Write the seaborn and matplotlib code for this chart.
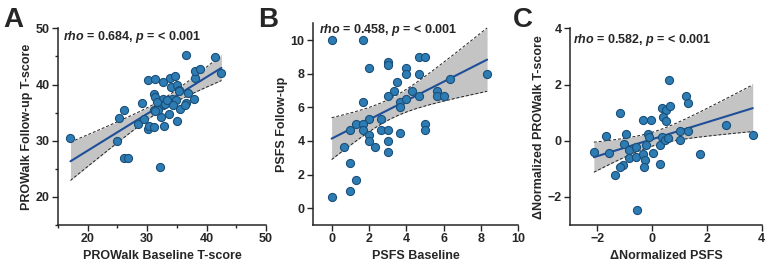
#!/usr/bin/env python3
import matplotlib
matplotlib.use('Agg')
import matplotlib.pyplot as plt
import numpy as np
import pandas as pd
import seaborn as sns

sns.set_theme(style='ticks')
plt.rcParams['font.family'] = ['Liberation Sans', 'DejaVu Sans']
plt.rcParams['font.weight'] = 'bold'
plt.rcParams['mathtext.fontset'] = 'custom'
plt.rcParams['mathtext.it'] = 'Liberation Sans:bold:italic'
plt.rcParams['mathtext.rm'] = 'Liberation Sans:bold'

# Panel A: PROWalk T-scores
prowalk_base = [17.1, 24.9, 25.2, 26.1, 26.1, 26.7, 29.1, 30.1, 31.4, 32.6,
                28.5, 29.4, 30.1, 30.3, 31.1, 31.2, 31.3, 31.1, 32.2, 32.3,
                32.6, 32.9, 32.7, 33.0, 33.6, 33.9, 34.0, 34.2, 34.7, 35.0,
                34.8, 35.1, 35.3, 35.5, 35.4, 36.8, 36.6, 36.6, 36.4, 37.9,
                38.0, 38.0, 38.9, 41.5, 42.5, 31.6, 31.9, 33.3, 34.4, 31.3]
prowalk_follow = [30.4, 29.9, 34.1, 35.4, 27.0, 27.0, 36.7, 40.8, 41.0, 40.5,
                  32.9, 33.8, 32.1, 32.6, 32.4, 38.4, 37.7, 35.5, 25.3, 34.3,
                  37.4, 32.6, 36.3, 36.5, 34.7, 41.1, 39.6, 37.5, 41.5, 33.5,
                  37.3, 39.9, 39.0, 35.7, 38.9, 38.5, 45.2, 36.7, 36.3, 37.5,
                  41.1, 42.4, 42.7, 44.9, 42.0, 36.9, 35.4, 37.2, 36.3, 35.2]

# Panel B: PSFS scores
psfs_base = [0, 1.67, 4.67, 5, 2, 3, 3, 4, 4, 4.67, 8.33, 6.33, 3.5, 3.33,
             4.33, 5.67, 3, 4.67, 5.67, 6, 1.67, 3.67, 4, 3.67, 2, 2.67, 1.33,
             1.67, 5, 5, 1, 1.67, 2.67, 3, 3.67, 2, 2, 3, 0.67, 2.33, 3, 1,
             1.33, 1, 0]
psfs_follow = [10, 10, 9, 9, 8.33, 8.67, 8.5, 8.33, 8, 8, 8, 7.67, 7.5, 7, 7,
               7, 6.67, 6.67, 6.67, 6.67, 6.33, 6.33, 6.5, 6, 5.33, 5.33, 5, 5,
               5, 4.67, 4.67, 4.67, 4.67, 4.67, 4.5, 4.33, 4, 4, 3.67, 3.67,
               3.33, 2.67, 1.67, 1, 0.67]

# Panel C: change scores (normalized)
d_psfs = [-2.13, -1.70, -1.56, -1.18, -1.36, -0.94, -1.02, -1.07, -1.16, -0.83,
          -0.85, -0.61, -0.61, -0.54, -0.32, -0.04, -0.16, -0.10, -0.24, -0.34,
          -0.27, -0.29, 0.02, 0.27, 0.29, 0.36, 0.51, 0.64, 0.40, 0.49, 0.61,
          0.36, 0.46, 0.58, 1.00, 1.00, 1.31, 1.22, 1.31, 1.73, 2.71, 3.67]
d_prowalk = [-0.39, 0.16, -0.45, 0.98, -1.21, 0.24, -0.10, -0.86, -0.95, -0.33,
             -0.60, -0.24, -0.57, -2.47, 0.75, 0.75, 0.24, 0.12, -0.14, -0.48,
             -0.69, -0.95, -0.45, -0.84, -0.16, 1.15, 1.11, 1.24, 0.86, 0.69,
             2.15, 0.14, 0.02, 0.10, 0.04, 0.36, 0.36, 1.58, 1.34, -0.48, 0.57,
             0.20]

panels = [
    dict(letter='A', x=prowalk_base, y=prowalk_follow,
         xlabel='PROWalk Baseline T-score', ylabel='PROWalk Follow-up T-score',
         stat='$rho$ = 0.684, $p$ = < 0.001', stat_pos=(0.024, 0.956),
         xlim=(15, 50), ylim=(15, 50), xticks=[20, 30, 40, 50], yticks=[20, 30, 40, 50],
         minor=5, pos=[0.0756, 0.141, 0.2712, 0.751], letter_x=0.004),
    dict(letter='B', x=psfs_base, y=psfs_follow,
         xlabel='PSFS Baseline', ylabel='PSFS Follow-up',
         stat='$rho$ = 0.458, $p$ = < 0.001', stat_pos=(0.03, 0.967),
         xlim=(-1, 10), ylim=(-1, 11), xticks=[0, 2, 4, 6, 8, 10], yticks=[0, 2, 4, 6, 8, 10],
         minor=None, pos=[0.408, 0.141, 0.2677, 0.770], letter_x=0.336),
    dict(letter='C', x=d_psfs, y=d_prowalk,
         xlabel='\u0394Normalized PSFS', ylabel='\u0394Normalized PROWalk T-score',
         stat='$rho$ = 0.582, $p$ = < 0.001', stat_pos=(0.017, 0.94),
         xlim=(-3, 4), ylim=(-3, 4), xticks=[-2, 0, 2, 4], yticks=[-2, 0, 2, 4],
         minor=None, pos=[0.7432, 0.141, 0.25, 0.751], letter_x=0.669),
]

T_CRIT = 2.01  # ~t(0.975, n-2) for n around 45-50


def ols_band(x, y):
    x = np.asarray(x, float)
    y = np.asarray(y, float)
    n = len(x)
    b1, b0 = np.polyfit(x, y, 1)
    resid = y - (b0 + b1 * x)
    s = np.sqrt(np.sum(resid ** 2) / (n - 2))
    sxx = np.sum((x - x.mean()) ** 2)
    grid = np.linspace(x.min(), x.max(), 100)
    fit = b0 + b1 * grid
    half = T_CRIT * s * np.sqrt(1 / n + (grid - x.mean()) ** 2 / sxx)
    return grid, fit - half, fit + half


fig = plt.figure(figsize=(7.67, 2.62), dpi=100)

for p in panels:
    ax = fig.add_axes(p['pos'])
    df = pd.DataFrame({'x': p['x'], 'y': p['y']})
    sns.regplot(
        data=df, x='x', y='y', ax=ax, ci=None,
        scatter_kws=dict(s=34, color='#2d7db4', edgecolor='#1b4f78',
                         linewidths=0.8, alpha=1, zorder=4),
        line_kws=dict(color='#1f4f99', lw=1.5, zorder=3),
    )
    grid, lo, hi = ols_band(p['x'], p['y'])
    ax.fill_between(grid, lo, hi, color='#c4c4c4', lw=0, zorder=1)
    ax.plot(grid, lo, color='#222222', lw=0.7, ls=(0, (3, 2)), zorder=2)
    ax.plot(grid, hi, color='#222222', lw=0.7, ls=(0, (3, 2)), zorder=2)

    ax.set_xlim(p['xlim'])
    ax.set_ylim(p['ylim'])
    ax.set_xticks(p['xticks'])
    ax.set_yticks(p['yticks'])
    if p['minor']:
        ax.xaxis.set_minor_locator(matplotlib.ticker.MultipleLocator(p['minor']))
        ax.yaxis.set_minor_locator(matplotlib.ticker.MultipleLocator(p['minor']))
        ax.tick_params(which='minor', length=2.5, width=1)
    ax.set_xlabel(p['xlabel'], fontsize=9, fontweight='bold', labelpad=3)
    ax.set_ylabel(p['ylabel'], fontsize=9, fontweight='bold', labelpad=2)
    ax.tick_params(axis='both', which='major', labelsize=9, length=4, width=1,
                   direction='out', pad=2)
    for lab in ax.get_xticklabels() + ax.get_yticklabels():
        lab.set_fontweight('bold')
    sns.despine(ax=ax)
    for s in ['left', 'bottom']:
        ax.spines[s].set_linewidth(1.1)
    ax.text(p['stat_pos'][0], p['stat_pos'][1], p['stat'], transform=ax.transAxes,
            fontsize=9, fontweight='bold', va='center', ha='left')
    fig.text(p['letter_x'], (262 - 27) / 262, p['letter'], fontsize=20,
             fontweight='bold', va='baseline', ha='left')

fig.savefig('out.png', dpi=100)
